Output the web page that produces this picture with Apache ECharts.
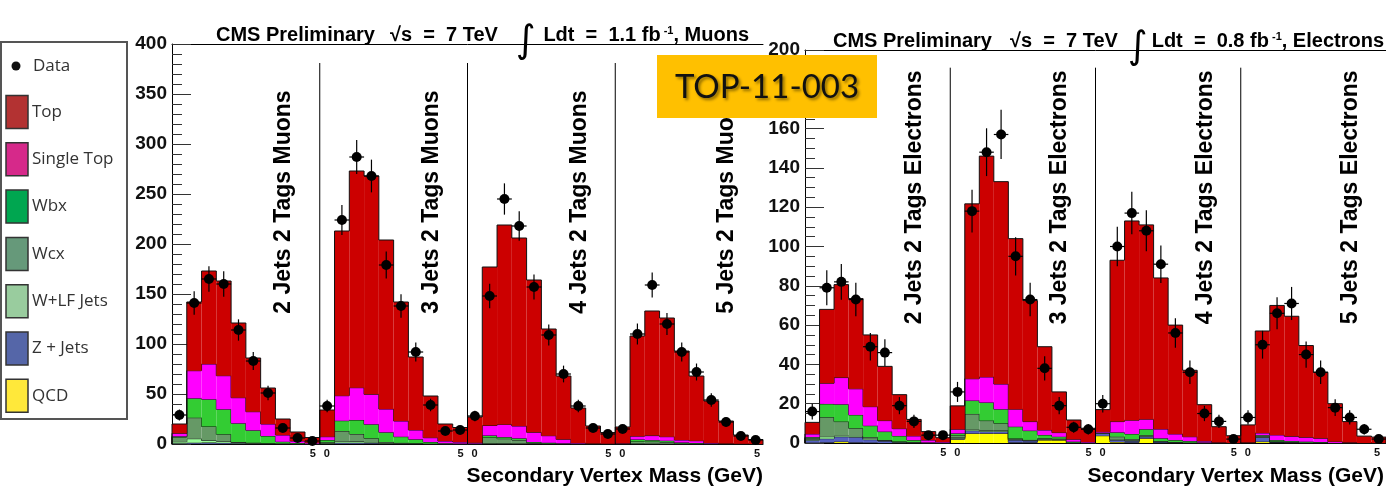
<!DOCTYPE html>
<html><head><meta charset="utf-8">
<script src="https://cdn.jsdelivr.net/npm/echarts@6/dist/echarts.min.js"></script>
<style>html,body{margin:0;padding:0;background:#fff}#c{width:1386px;height:487px}</style>
</head><body><div id="c"></div>
<script>
// ---------- DATA (40 bins = 4 jet-multiplicity regions x 10 bins of 0.5 GeV) ----------
const regionLabelsMu = ['2 Jets 2 Tags Muons', '3 Jets 2 Tags Muons', '4 Jets 2 Tags Muons', '5 Jets 2 Tags Muons'];
const regionLabelsEl = ['2 Jets 2 Tags Electrons', '3 Jets 2 Tags Electrons', '4 Jets 2 Tags Electrons', '5 Jets 2 Tags Electrons'];
const legendNames = ['Top', 'Single Top', 'Wbx', 'Wcx', 'W+LF Jets', 'Z + Jets', 'QCD'];

// Muons (1.1 fb^-1)
const muQCD  = [0,0.3,0.3,0.2,0,0,0,0,0,0, 0,0.3,0.3,0.2,0,0,0,0,0,0, 0,0.2,0,0,0,0,0,0,0,0, 0,0,0,0,0,0,0,0,0,0];
const muZ    = [0.7,1,1.2,1,0.8,0.3,0.2,0.1,0,0, 0.3,1,1,0.8,0.5,0.3,0.2,0,0,0, 0.2,0.3,0.3,0.2,0.2,0.1,0,0,0,0, 0,0.2,0.2,0.1,0,0,0,0,0,0];
const muWLF  = [1.5,4,2,1.5,0.7,0.5,0.3,0.2,0,0, 0.5,1.5,1.2,1,0.5,0.3,0.2,0,0,0, 0,0.5,0.4,0.3,0.2,0.1,0,0,0,0, 0,0.3,0.2,0.2,0,0,0,0,0,0];
const muWcx  = [4.5,21,14,7,0.5,0.5,0.3,0.2,0.2,0, 1,10.2,7.5,3.7,1,0.6,0.4,0.3,0,0, 0,5.5,4.6,3.5,0.6,0.3,0.2,0,0,0, 0,2,2,1.5,0.5,0.3,0,0,0,0];
const muWbx  = [1,19.4,27.2,25,18.7,12.4,7.2,1.8,0.8,0.3, 2.2,10.3,14,14,9.7,6.1,3.9,1.7,0.8,0.5, 0.3,2,1.6,1.7,1,0.8,0.5,0.2,0,0, 0,2,1.5,1.5,1,0.7,0.3,0,0,0];
const muSTop = [3,27.6,35.3,33.6,25.6,18.6,12,6.7,2,1, 3.3,25,32.3,30,23.3,15.7,9.3,4.3,2.2,1.5, 0.8,10,12.7,12.3,9.7,7,4,0.8,0.5,0.3, 0.7,3.3,4.5,4,2.5,2.3,0.7,0.5,0.2,0];
const muTop  = [9.3,68.7,93,94.7,74.7,53.7,36,16,9,5.2, 26.7,164.7,216.7,218.3,169,119,73,41.7,17,14.5, 25.7,158.5,199.4,188,152.3,106.7,63.3,35,17.5,11.2, 16.3,100.2,124.6,118.7,89,64.7,42,22.5,8.8,4.5];
const muData = [29,141,165,160,114,83,51,16,6,3, 38,224,287,268,179,138,92,39,13,14, 28,148,245,218,157,109,70,38,16,10, 15,110,159,120,92,72,44,22,8,4];

// Electrons (0.8 fb^-1)
const elQCD  = [0.2,0.3,0.7,0.3,0.2,0,0,0,0,0, 1.9,4.9,4.9,4.9,0.3,0.3,1.5,1.5,0,0, 3.7,0.5,0.3,2.4,0,0,0,0,0,0, 0,0.7,0.2,0,0,0,0,0,0,0];
const elZ    = [1.2,1.9,2.5,2.7,1.5,1,0.4,0.2,0,0, 0.5,1.4,1,1,1.2,0.8,0.3,0.2,0.2,0, 1.2,1,0.7,0.8,0.5,0.3,0.2,0,0,0, 0.3,2.2,0.3,0.3,0.2,0.2,0,0,0,0];
const elWLF  = [0.5,1,0.5,0.6,0.5,0.3,0.2,0,0,0, 0.5,0.5,0.5,0.5,0.3,0.2,0.3,0.3,0,0, 0.3,0.5,0.3,0.3,0.2,0,0,0,0,0, 0,0.2,0,0,0,0,0,0,0,0];
const elWcx  = [0.6,9.9,7.2,3.9,0.8,0.2,0.2,0.3,0,0, 1,8,5,3.6,0.5,0.3,0.3,0.2,0,0, 0,1.2,0.7,0.5,0.3,0.2,0,0,0,0, 0,0.4,0.3,0.2,0,0,0,0,0,0];
const elWbx  = [0.5,6.8,8.8,6.8,5.8,4.3,2.8,1,0.3,0, 1,6.8,9.2,7.2,6,4.7,1.7,1,0.5,0, 0,2.2,2.6,3,1.4,1,0.8,0.3,0,0, 0,0.5,0.7,0.5,0.5,0.3,0,0,0,0];
const elSTop = [1.6,10.5,13.6,13.3,9.7,5.6,3.7,2.1,1.2,0.5, 2.1,11.1,13,12.8,8.9,4.6,2.5,2.1,1.2,0.5, 0.5,5.5,7,5.1,4.7,3.1,2.2,0.7,0.3,0, 0,1.1,2.6,2.4,2.2,1.9,0.7,0.3,0,0];
const elTop  = [5.9,37.6,47.3,45.9,36.5,27.6,17.3,8.4,4.3,2.2, 11.9,89,112.4,103,86.8,61.6,42.4,20.7,9.8,7, 11.3,82.1,101.4,98.9,76.9,55.4,33.8,18.5,8,3.7, 8.9,51.9,65.9,61.1,46.7,33.6,19.3,10.6,3.5,3];
const elData = [16,79,82,73,49,46,19,11,4,4, 26,118,148,157,95,73,38,19,8,7, 20,100,117,108,91,56,36,15,11,2, 13,50,66,71,45,36,18,13,7,2];

// ---------- STYLE ----------
const F = "'Liberation Sans', Arial, Helvetica, sans-serif";
const histColors = {QCD:'#FFFF00', Z:'#5560C0', WLF:'#99FF99', Wcx:'#669966', Wbx:'#33CC33', STop:'#FF00FF', Top:'#CC0000'};
const legendColors = ['#B33232', '#D6298A', '#00A650', '#66997A', '#99CC9E', '#5566A8', '#FFE83A'];
const BINW = 0.5;

const chart = echarts.init(document.getElementById('c'), null, {renderer:'canvas'});

function stackSeries(gridIdx, comps) {
  const out = [];
  const base = new Array(40).fill(0);
  comps.forEach(([key, arr]) => {
    const tops = arr.map((v, i) => base[i] + v);
    const data = arr.map((v, i) => {
      const d = [i * BINW, (i + 1) * BINW, base[i], tops[i], i === 0 ? 0 : tops[i - 1], i === arr.length - 1 ? 1 : 0];
      return d;
    });
    arr.forEach((v, i) => { base[i] += v; });
    out.push({
      type:'custom', name:key, xAxisIndex:gridIdx, yAxisIndex:gridIdx, z:2,
      encode:{x:[0,1], y:[2,3]},
      data,
      renderItem:(params, api) => {
        const p0 = api.coord([api.value(0), api.value(2)]);
        const p1 = api.coord([api.value(1), api.value(3)]);
        const pp = api.coord([api.value(0), api.value(4)]);
        const z0 = api.coord([api.value(1), 0]);
        const children = [
          {type:'rect', shape:{x:p0[0], y:p1[1], width:p1[0]-p0[0], height:p0[1]-p1[1]}, style:{fill:histColors[key]}},
          {type:'polyline', shape:{points:[[p0[0], pp[1]], [p0[0], p1[1]], [p1[0], p1[1]]]}, style:{stroke:'#111', lineWidth:1, fill:null}}
        ];
        if (api.value(5) === 1) children.push({type:'line', shape:{x1:p1[0], y1:p1[1], x2:p1[0], y2:z0[1]}, style:{stroke:'#111', lineWidth:1}});
        return {type:'group', children};
      }
    });
  });
  return out;
}

function dataSeries(gridIdx, arr) {
  return {
    type:'custom', name:'Data', xAxisIndex:gridIdx, yAxisIndex:gridIdx, z:5,
    encode:{x:0, y:1},
    data: arr.map((v, i) => [(i + 0.5) * BINW, v]),
    renderItem:(params, api) => {
      const x = api.value(0), y = api.value(1), e = Math.sqrt(y);
      const c = api.coord([x, y]);
      const lo = api.coord([x, Math.max(0, y - e)]);
      const hi = api.coord([x, y + e]);
      const l = api.coord([x - BINW/2, y]);
      const r = api.coord([x + BINW/2, y]);
      return {type:'group', children:[
        {type:'line', shape:{x1:c[0], y1:lo[1], x2:c[0], y2:hi[1]}, style:{stroke:'#000', lineWidth:1.2}},
        {type:'line', shape:{x1:l[0], y1:c[1], x2:r[0], y2:c[1]}, style:{stroke:'#000', lineWidth:1.2}},
        {type:'circle', shape:{cx:c[0], cy:c[1], r:5}, style:{fill:'#000'}}
      ]};
    }
  };
}

function dividerSeries(gridIdx, topVal) {
  return {
    type:'custom', xAxisIndex:gridIdx, yAxisIndex:gridIdx, z:3, silent:true,
    data:[[5],[10],[15]],
    encode:{x:0},
    renderItem:(params, api) => {
      const a = api.coord([api.value(0), 0]);
      const b = api.coord([api.value(0), topVal]);
      return {type:'line', shape:{x1:a[0], y1:a[1], x2:b[0], y2:b[1]}, style:{stroke:'#000', lineWidth:1}};
    }
  };
}

function regionLabelSeries(gridIdx, labels, yVal) {
  return {
    type:'custom', xAxisIndex:gridIdx, yAxisIndex:gridIdx, z:4, silent:true,
    data: labels.map((t, r) => [r * 5 + 3.78, yVal, r]),
    encode:{x:0, y:1},
    renderItem:(params, api) => {
      const c = api.coord([api.value(0), api.value(1)]);
      return {type:'text', x:c[0], y:c[1], rotation:Math.PI/2,
        style:{text:labels[api.value(2)], fontSize:23, fontWeight:'bold', fontFamily:F, fill:'#000',
          align:'center', verticalAlign:'middle'}};
    }
  };
}

function xAxisMain(gridIdx, endPad) {
  const st = {fontSize:11, fontWeight:'bold', fontFamily:F, color:'#111'};
  return {
    type:'value', gridIndex:gridIdx, min:0, max:20, interval:5,
    axisLine:{show:true, lineStyle:{color:'#000', width:1}},
    axisTick:{show:false}, splitLine:{show:false},
    axisLabel:{margin:4, showMinLabel:true, showMaxLabel:true,
      formatter:(v) => v === 0 ? '' : (v === 20 ? '{e|5}' : '{a|5}{b|0}'),
      rich:{a:Object.assign({padding:[0,4,0,0]}, st), b:Object.assign({padding:[0,0,0,4]}, st),
            e:Object.assign({padding:[0,endPad,0,0]}, st)}}
  };
}
function xAxisTop(gridIdx) {
  return {type:'value', gridIndex:gridIdx, min:0, max:20, position:'top',
    axisLine:{show:true, onZero:false, lineStyle:{color:'#000', width:1}},
    axisTick:{show:false}, axisLabel:{show:false}, splitLine:{show:false}};
}
function yAxis(gridIdx, max, interval, minorSplit) {
  return {type:'value', gridIndex:gridIdx, min:0, max:max, interval:interval,
    axisLine:{show:true, lineStyle:{color:'#000', width:1}},
    axisTick:{show:true, inside:true, length:19, lineStyle:{color:'#333', width:1}},
    minorTick:{show:true, splitNumber:minorSplit, length:10, lineStyle:{color:'#333', width:1}},
    splitLine:{show:false}, minorSplitLine:{show:false},
    axisLabel:{fontSize:19, fontWeight:'bold', fontFamily:F, color:'#111', margin:5}};
}

const series = [
  ...stackSeries(0, [['QCD',muQCD],['Z',muZ],['WLF',muWLF],['Wcx',muWcx],['Wbx',muWbx],['STop',muSTop],['Top',muTop]]),
  ...stackSeries(1, [['QCD',elQCD],['Z',elZ],['WLF',elWLF],['Wcx',elWcx],['Wbx',elWbx],['STop',elSTop],['Top',elTop]]),
  dividerSeries(0, 381), dividerSeries(1, 191),
  regionLabelSeries(0, regionLabelsMu, 242), regionLabelSeries(1, regionLabelsEl, 125),
  dataSeries(0, muData), dataSeries(1, elData)
];

// ---------- graphics: legend box, titles, TOP badge ----------
const tStyle = (extra) => Object.assign({fontFamily:F, fontWeight:'bold', fontSize:20, fill:'#000'}, extra);
const LF = "'Open Sans', sans-serif";
const graphics = [];
// legend
graphics.push({type:'rect', x:1, y:42, shape:{width:126, height:377}, style:{fill:'#fff', stroke:'#555', lineWidth:2}, z:10});
graphics.push({type:'circle', x:16, y:66, shape:{cx:0, cy:0, r:4.5}, style:{fill:'#111'}, z:11});
graphics.push({type:'text', x:33, y:66, style:{text:'Data', fontFamily:LF, fontSize:17, fill:'#333', align:'left', verticalAlign:'middle'}, z:11});
legendNames.forEach((n, k) => {
  const cy = 112 + k * 47.3;
  graphics.push({type:'rect', x:6, y:cy - 16.5, shape:{width:22, height:33}, style:{fill:legendColors[k], stroke:'#333', lineWidth:1.5}, z:11});
  graphics.push({type:'text', x:32, y:cy, style:{text:n, fontFamily:LF, fontSize:17, fill:'#333', align:'left', verticalAlign:'middle'}, z:11});
});
// titles
function titleParts(x0, xSqrt, xInt, xEnd, y, lumi, chan) {
  graphics.push({type:'text', x:x0, y:y, style:tStyle({text:'CMS Preliminary', align:'left', verticalAlign:'middle'}), z:6});
  graphics.push({type:'text', x:xSqrt, y:y, style:tStyle({text:'\u221As  =  7 TeV', align:'left', verticalAlign:'middle'}), z:6});
  graphics.push({type:'text', x:xInt, y:y + 7, style:{text:'\u222B', fontFamily:"'DejaVu Sans', sans-serif", fontSize:38, fill:'#000', align:'center', verticalAlign:'middle'}, z:6});
  graphics.push({type:'text', x:xEnd, y:y, style:tStyle({text:'Ldt  =  ' + lumi + ' fb{s| -1}, ' + chan, align:'right', verticalAlign:'middle',
    rich:{s:{fontFamily:F, fontWeight:'bold', fontSize:11, verticalAlign:'top', padding:[0,0,8,0]}}}), z:6});
}
titleParts(216, 390, 526, 749, 35, '1.1', 'Muons');
titleParts(833, 1010, 1138, 1384, 41, '0.8', 'Electrons');
// axis names
graphics.push({type:'text', x:763, y:476, style:tStyle({text:'Secondary Vertex Mass (GeV)', fontSize:21, align:'right', verticalAlign:'middle'}), z:6});
graphics.push({type:'text', x:1384, y:476, style:tStyle({text:'Secondary Vertex Mass (GeV)', fontSize:21, align:'right', verticalAlign:'middle'}), z:6});
// badge
graphics.push({type:'rect', x:657, y:55, shape:{width:220, height:63}, style:{fill:'#FFC000'}, z:20});
graphics.push({type:'text', x:767, y:87, style:{text:'TOP-11-003', fontFamily:"Lato, 'Open Sans', sans-serif", fontSize:33, fill:'#111',
  align:'center', verticalAlign:'middle', textShadowColor:'rgba(0,0,0,0.45)', textShadowBlur:3, textShadowOffsetX:2, textShadowOffsetY:2}, z:21});

chart.setOption({
  animation:false,
  backgroundColor:'#fff',
  grid:[{left:172, top:44, width:591, height:400}, {left:805, top:50, width:583, height:393}],
  xAxis:[xAxisMain(0, 12), xAxisMain(1, 18), xAxisTop(0), xAxisTop(1)],
  yAxis:[yAxis(0, 400, 50, 5), yAxis(1, 200, 20, 4)],
  series,
  graphic:{elements:graphics}
});
</script></body></html>
